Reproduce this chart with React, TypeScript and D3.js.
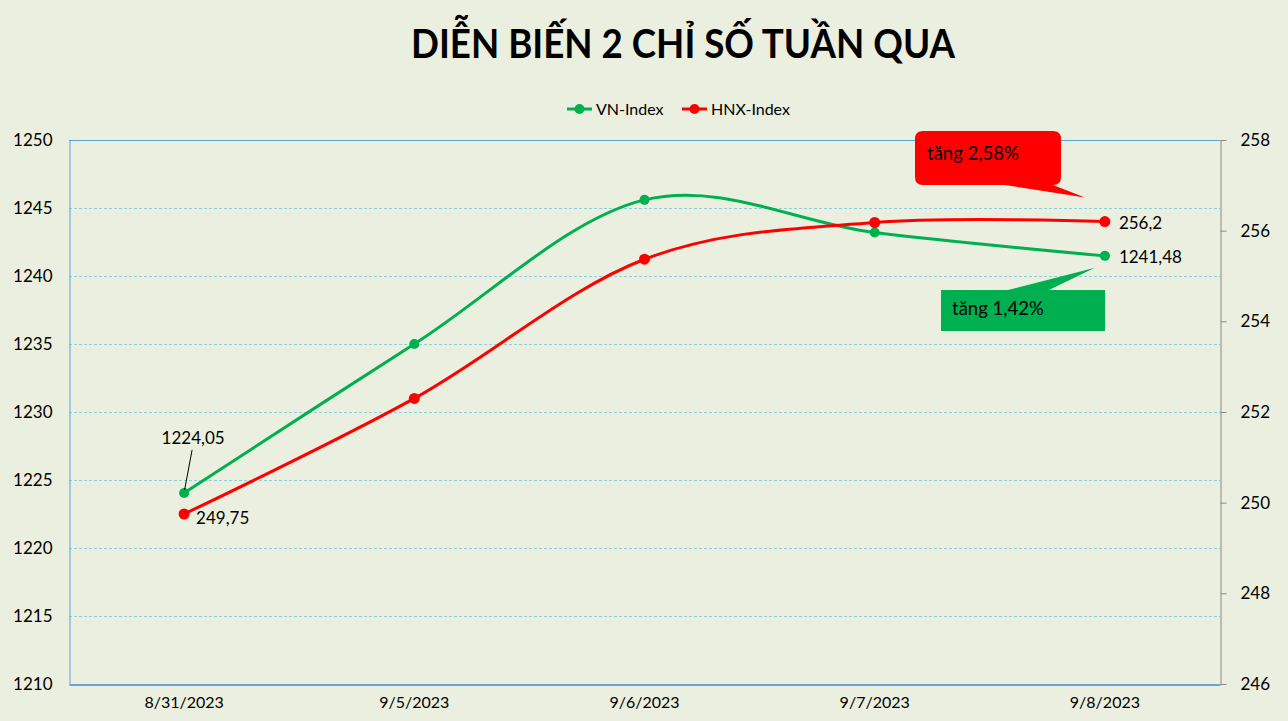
import { useEffect, useRef } from "react";
import * as d3 from "d3";

const dates = ["8/31/2023", "9/5/2023", "9/6/2023", "9/7/2023", "9/8/2023"];
const vnIndex = [1224.05, 1235.0, 1245.6, 1243.2, 1241.48];
const hnxIndex = [249.75, 252.3, 255.37, 256.18, 256.2];
const leftTicks = [1210, 1215, 1220, 1225, 1230, 1235, 1240, 1245, 1250];
const rightTicks = [246, 248, 250, 252, 254, 256, 258];

const GREEN = "#00B050";
const RED = "#FF0000";
const FONT = "Lato, 'Open Sans', sans-serif";

export default function App() {
  const ref = useRef<SVGSVGElement>(null);

  useEffect(() => {
    if (!ref.current) return;
    const svg = d3.select(ref.current);
    svg.selectAll("*").remove();

    const width = 1288;
    const height = 721;
    const margin = { top: 140, right: 68, bottom: 37, left: 69 };

    svg.append("rect").attr("width", width).attr("height", height).attr("fill", "#EBEFDF");

    const x = d3.scaleBand().domain(dates).range([margin.left, width - margin.right]);
    const cx = (d: string) => (x(d) || 0) + x.bandwidth() / 2;
    const yL = d3.scaleLinear().domain([1210, 1250]).range([height - margin.bottom, margin.top]);
    const yR = d3.scaleLinear().domain([246, 258]).range([height - margin.bottom, margin.top]);

    // Title
    svg.append("text")
      .attr("x", 683).attr("y", 58)
      .attr("text-anchor", "middle")
      .attr("font-family", FONT).attr("font-weight", "bold").attr("font-size", 40)
      .attr("textLength", 544).attr("lengthAdjust", "spacingAndGlyphs")
      .attr("fill", "#000")
      .text("DIỄN BIẾN 2 CHỈ SỐ TUẦN QUA");

    // Gridlines
    svg.append("g").selectAll("line")
      .data(leftTicks.filter(t => t !== 1210 && t !== 1250))
      .join("line")
      .attr("x1", margin.left).attr("x2", width - margin.right)
      .attr("y1", d => yL(d) + 0.5).attr("y2", d => yL(d) + 0.5)
      .attr("stroke", "#8FD0DF").attr("stroke-width", 1).attr("stroke-dasharray", "3,2");

    svg.append("line")
      .attr("x1", margin.left).attr("x2", width - margin.right)
      .attr("y1", yL(1250) + 0.5).attr("y2", yL(1250) + 0.5)
      .attr("stroke", "#5DA5D8").attr("stroke-width", 1);

    // Left axis
    const gl = svg.append("g").attr("transform", `translate(${margin.left + 0.5},0)`)
      .call(d3.axisLeft(yL).tickValues(leftTicks).tickFormat(d3.format("d")).tickSize(0).tickPadding(17));
    gl.select(".domain").attr("stroke", "#5DA5D8");
    gl.selectAll("text").attr("font-family", FONT).attr("font-size", 17).attr("fill", "#000");

    // Right axis
    const gr = svg.append("g").attr("transform", `translate(${width - margin.right + 0.5},0)`)
      .call(d3.axisRight(yR).tickValues(rightTicks).tickSize(6).tickSizeOuter(0).tickPadding(14));
    gr.select(".domain").attr("stroke", "#888");
    gr.selectAll(".tick line").attr("stroke", "#888");
    gr.selectAll("text").attr("font-family", FONT).attr("font-size", 17).attr("fill", "#000");

    // Bottom axis
    const gb = svg.append("g").attr("transform", `translate(0,${height - margin.bottom + 0.5})`)
      .call(d3.axisBottom(x).tickSize(0).tickSizeOuter(0).tickPadding(12));
    gb.select(".domain").attr("stroke", "#3E8ED6").attr("stroke-width", 1.5);
    gb.selectAll("text").attr("font-family", FONT).attr("font-size", 16).attr("fill", "#000");

    // Lines
    const lineVN = d3.line<number>()
      .x((_, i) => cx(dates[i]))
      .y(d => yL(d))
      .curve(d3.curveCatmullRom.alpha(0));
    const lineHNX = d3.line<number>()
      .x((_, i) => cx(dates[i]))
      .y(d => yR(d))
      .curve(d3.curveCatmullRom.alpha(0));

    svg.append("path").attr("d", lineVN(vnIndex)).attr("fill", "none")
      .attr("stroke", GREEN).attr("stroke-width", 3);
    svg.append("path").attr("d", lineHNX(hnxIndex)).attr("fill", "none")
      .attr("stroke", RED).attr("stroke-width", 3);

    svg.append("g").selectAll("circle").data(vnIndex).join("circle")
      .attr("cx", (_, i) => cx(dates[i])).attr("cy", d => yL(d)).attr("r", 5)
      .attr("fill", GREEN);
    svg.append("g").selectAll("circle").data(hnxIndex).join("circle")
      .attr("cx", (_, i) => cx(dates[i])).attr("cy", d => yR(d)).attr("r", 5.5)
      .attr("fill", RED);

    // Data labels
    const fmt = (v: number) => String(v).replace(".", ",");
    const label = (tx: number, ty: number, t: string, anchor = "start") =>
      svg.append("text").attr("x", tx).attr("y", ty).attr("text-anchor", anchor)
        .attr("font-family", FONT).attr("font-size", 17).attr("fill", "#000").text(t);

    const x0 = cx(dates[0]);
    const x4 = cx(dates[4]);
    svg.append("line").attr("x1", x0 + 0.5).attr("y1", yL(vnIndex[0]) - 3)
      .attr("x2", x0 + 8).attr("y2", yL(vnIndex[0]) - 43)
      .attr("stroke", "#000").attr("stroke-width", 1);
    label(x0 + 9, yL(vnIndex[0]) - 49, fmt(vnIndex[0]), "middle");
    label(x0 + 12, yR(hnxIndex[0]) + 10, fmt(hnxIndex[0]));
    label(x4 + 14, yR(hnxIndex[4]) + 7, fmt(hnxIndex[4]));
    label(x4 + 14, yL(vnIndex[4]) + 7, fmt(vnIndex[4]));

    // Callout: HNX
    const redPath = d3.path();
    const rx0 = 915, ry0 = 131, rw = 146, rh = 54, r = 8;
    redPath.moveTo(rx0 + r, ry0);
    redPath.lineTo(rx0 + rw - r, ry0);
    redPath.quadraticCurveTo(rx0 + rw, ry0, rx0 + rw, ry0 + r);
    redPath.lineTo(rx0 + rw, ry0 + rh - r);
    redPath.quadraticCurveTo(rx0 + rw, ry0 + rh, rx0 + rw - r, ry0 + rh);
    redPath.lineTo(x4 - 20, yR(hnxIndex[4]) - 24);
    redPath.lineTo(rx0 + 90, ry0 + rh);
    redPath.lineTo(rx0 + r, ry0 + rh);
    redPath.quadraticCurveTo(rx0, ry0 + rh, rx0, ry0 + rh - r);
    redPath.lineTo(rx0, ry0 + r);
    redPath.quadraticCurveTo(rx0, ry0, rx0 + r, ry0);
    redPath.closePath();
    svg.append("path").attr("d", redPath.toString()).attr("fill", RED);
    svg.append("text").attr("x", rx0 + 12).attr("y", ry0 + 29)
      .attr("font-family", FONT).attr("font-size", 18.5).attr("fill", "#000").text("tăng 2,58%");

    // Callout: VN
    const gx0 = 941, gy0 = 290, gw = 164, gh = 41;
    const greenPath = d3.path();
    greenPath.moveTo(gx0, gy0);
    greenPath.lineTo(gx0 + 67, gy0);
    greenPath.lineTo(x4 - 10, yL(vnIndex[4]) + 12);
    greenPath.lineTo(gx0 + 108, gy0);
    greenPath.lineTo(gx0 + gw, gy0);
    greenPath.lineTo(gx0 + gw, gy0 + gh);
    greenPath.lineTo(gx0, gy0 + gh);
    greenPath.closePath();
    svg.append("path").attr("d", greenPath.toString()).attr("fill", GREEN);
    svg.append("text").attr("x", gx0 + 11).attr("y", gy0 + 25)
      .attr("font-family", FONT).attr("font-size", 18.5).attr("fill", "#000").text("tăng 1,42%");

    // Legend
    const legend = [
      { name: "VN-Index", color: GREEN, x: 567 },
      { name: "HNX-Index", color: RED, x: 682 },
    ];
    const lg = svg.append("g");
    legend.forEach(l => {
      lg.append("line").attr("x1", l.x).attr("x2", l.x + 25).attr("y1", 109).attr("y2", 109)
        .attr("stroke", l.color).attr("stroke-width", 3);
      lg.append("circle").attr("cx", l.x + 12.5).attr("cy", 109).attr("r", 5).attr("fill", l.color);
      lg.append("text").attr("x", l.x + 29).attr("y", 115)
        .attr("font-family", FONT).attr("font-size", 16).attr("fill", "#000").text(l.name);
    });
  }, []);

  return (
    <svg ref={ref} width={1288} height={721}
      style={{ position: "absolute", left: 0, top: 0, display: "block" }} />
  );
}
